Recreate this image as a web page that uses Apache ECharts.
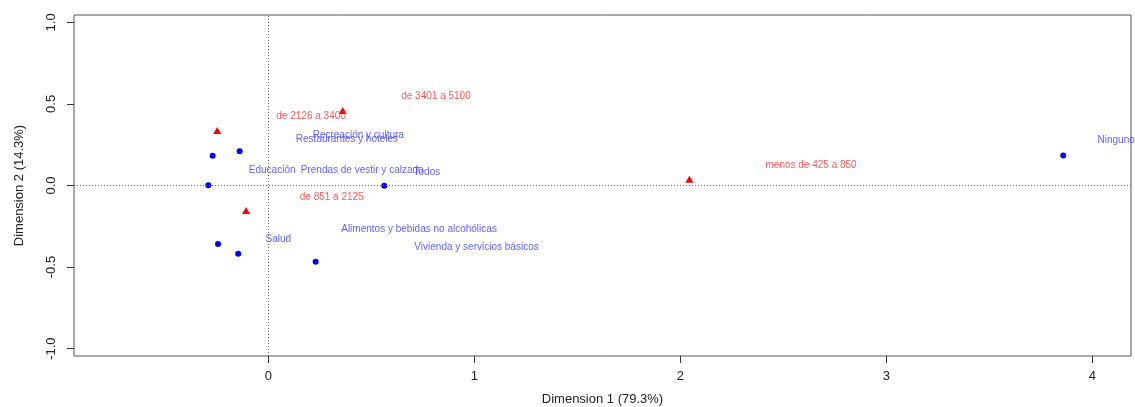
<!DOCTYPE html>
<html>
<head>
<meta charset="utf-8">
<script src="https://cdn.jsdelivr.net/npm/echarts@6/dist/echarts.min.js"></script>
<style>
  html, body { margin: 0; padding: 0; background: #fff; }
  #chart { width: 1135px; height: 407px; }
</style>
</head>
<body>
<div id="chart"></div>
<script>
// Correspondence analysis map: expense categories (blue) and income ranges (red)

// Column points (expense categories), principal coordinates
const colPointX = [-0.271, -0.140, -0.292, -0.245, -0.147, 0.562, 0.229, 3.858];
const colPointY = [0.182, 0.210, 0.002, -0.358, -0.419, -0.002, -0.468, 0.184];

// Column labels and where they are printed
const colLabels = ['Ninguno', 'Todos', 'Educación', 'Prendas de vestir y calzado',
  'Recreación y cultura', 'Restaurantes y hoteles', 'Salud',
  'Alimentos y bebidas no alcohólicas', 'Vivienda y servicios básicos'];
const colLabelX = [4.115, 0.769, 0.018, 0.455, 0.436, 0.381, 0.048, 0.731, 1.010];
const colLabelY = [0.276, 0.084, 0.092, 0.092, 0.307, 0.282, -0.327, -0.266, -0.379];

// Row points (income ranges)
const rowPointX = [-0.249, -0.109, 0.360, 2.043];
const rowPointY = [0.337, -0.153, 0.460, 0.039];

// Row labels and where they are printed
const rowLabels = ['de 3401 a 5100', 'de 2126 a 3400', 'menos de 425 a 850', 'de 851 a 2125'];
const rowLabelX = [0.813, 0.207, 2.634, 0.307];
const rowLabelY = [0.546, 0.425, 0.123, -0.072];

// Axis ticks
const xTicks = [0, 1, 2, 3, 4];
const yTicks = [-1, -0.5, 0, 0.5, 1];
const xTitle = 'Dimension 1 (79.3%)';
const yTitle = 'Dimension 2 (14.3%)';

const FONT = '"Liberation Sans", Arial, sans-serif';

const zip = (xs, ys) => xs.map((x, i) => [x, ys[i]]);
const labelData = (names, xs, ys) => names.map((n, i) => ({ name: n, value: [xs[i], ys[i]] }));

const chart = echarts.init(document.getElementById('chart'), null, { renderer: 'canvas' });

const axisCommon = {
  type: 'value',
  axisLine: { show: false, onZero: false },
  splitLine: { show: false },
  nameTextStyle: { fontFamily: FONT, fontSize: 13, color: '#222' }
};

chart.setOption({
  animation: false,
  backgroundColor: '#fff',
  grid: {
    left: 74, right: 4, top: 15, bottom: 51,
    outerBoundsMode: 'none',
    containLabel: false,
    show: true, borderColor: '#555', borderWidth: 1, backgroundColor: 'transparent'
  },
  xAxis: Object.assign({}, axisCommon, {
    position: 'bottom',
    min: -0.944, max: 4.187,
    name: xTitle, nameLocation: 'middle', nameGap: 37,
    axisTick: { show: true, length: 7, customValues: xTicks, lineStyle: { color: '#333' } },
    axisLabel: {
      customValues: xTicks, margin: 14,
      fontFamily: FONT, fontSize: 13, color: '#222',
      formatter: v => String(v)
    }
  }),
  yAxis: Object.assign({}, axisCommon, {
    position: 'left',
    min: -1.045, max: 1.045,
    name: yTitle, nameLocation: 'middle', nameGap: 48, nameRotate: 90,
    axisTick: { show: true, length: 7, customValues: yTicks, lineStyle: { color: '#333' } },
    axisLabel: {
      customValues: yTicks, margin: 16, rotate: 90,
      fontFamily: FONT, fontSize: 13, color: '#222',
      formatter: v => v.toFixed(1)
    }
  }),
  series: [
    {
      type: 'scatter',
      data: [],
      silent: true,
      markLine: {
        silent: true,
        symbol: 'none',
        label: { show: false },
        lineStyle: { color: '#666', width: 1, type: [1, 2] },
        data: [{ xAxis: 0 }, { yAxis: 0 }]
      }
    },
    {
      type: 'scatter',
      symbol: 'circle',
      symbolSize: 6,
      itemStyle: { color: '#0000ff', opacity: 1 },
      data: zip(colPointX, colPointY)
    },
    {
      type: 'scatter',
      symbol: 'triangle',
      symbolSize: [8, 7],
      itemStyle: { color: '#ff0000', opacity: 1 },
      data: zip(rowPointX, rowPointY)
    },
    {
      type: 'scatter',
      symbolSize: 0,
      itemStyle: { color: 'transparent' },
      label: {
        show: true, position: 'inside', formatter: p => p.name,
        fontFamily: FONT, fontSize: 10, color: '#3a3aff'
      },
      data: labelData(colLabels, colLabelX, colLabelY)
    },
    {
      type: 'scatter',
      symbolSize: 0,
      itemStyle: { color: 'transparent' },
      label: {
        show: true, position: 'inside', formatter: p => p.name,
        fontFamily: FONT, fontSize: 10, color: '#ff3030'
      },
      data: labelData(rowLabels, rowLabelX, rowLabelY)
    }
  ]
});
</script>
</body>
</html>
